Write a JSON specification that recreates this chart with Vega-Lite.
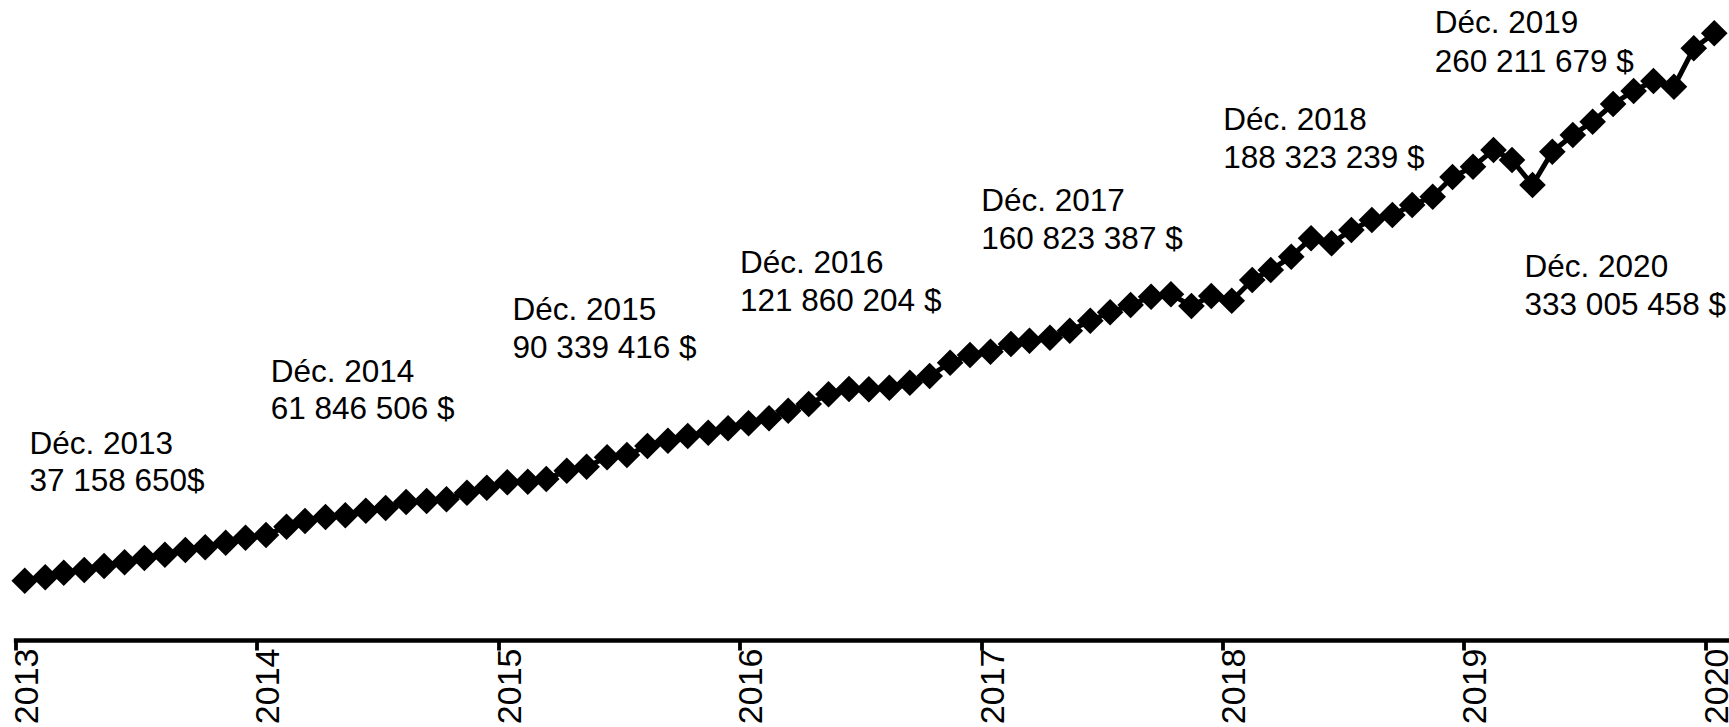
{
  "$schema": "https://vega.github.io/schema/vega-lite/v6.json",
  "width": 1711,
  "height": 640,
  "autosize": {"type": "none"},
  "padding": {"left": 15.5, "top": 0, "right": 2.5, "bottom": 87},
  "background": "white",
  "config": {"view": {"stroke": null}, "font": "Liberation Sans"},
  "datasets": {
    "serie": [
      {"mois": "2013-01-15", "valeur": 29.65},
      {"mois": "2013-02-15", "valeur": 31.35},
      {"mois": "2013-03-15", "valeur": 33.65},
      {"mois": "2013-04-15", "valeur": 35},
      {"mois": "2013-05-15", "valeur": 37},
      {"mois": "2013-06-15", "valeur": 38.85},
      {"mois": "2013-07-15", "valeur": 41},
      {"mois": "2013-08-15", "valeur": 42.65},
      {"mois": "2013-09-15", "valeur": 45},
      {"mois": "2013-10-15", "valeur": 46.35},
      {"mois": "2013-11-15", "valeur": 48.65},
      {"mois": "2013-12-15", "valeur": 51.15},
      {"mois": "2014-01-15", "valeur": 52.5},
      {"mois": "2014-02-15", "valeur": 56.65},
      {"mois": "2014-03-15", "valeur": 59.5},
      {"mois": "2014-04-15", "valeur": 61.5},
      {"mois": "2014-05-15", "valeur": 62.35},
      {"mois": "2014-06-15", "valeur": 64.65},
      {"mois": "2014-07-15", "valeur": 66},
      {"mois": "2014-08-15", "valeur": 69},
      {"mois": "2014-09-15", "valeur": 69.5},
      {"mois": "2014-10-15", "valeur": 70.35},
      {"mois": "2014-11-15", "valeur": 73.65},
      {"mois": "2014-12-15", "valeur": 76.15},
      {"mois": "2015-01-15", "valeur": 78.85},
      {"mois": "2015-02-15", "valeur": 79.15},
      {"mois": "2015-03-15", "valeur": 80.5},
      {"mois": "2015-04-15", "valeur": 84.65},
      {"mois": "2015-05-15", "valeur": 86.65},
      {"mois": "2015-06-15", "valeur": 91.35},
      {"mois": "2015-07-15", "valeur": 92.5},
      {"mois": "2015-08-15", "valeur": 97},
      {"mois": "2015-09-15", "valeur": 99.65},
      {"mois": "2015-10-15", "valeur": 102},
      {"mois": "2015-11-15", "valeur": 103.65},
      {"mois": "2015-12-15", "valeur": 105.85},
      {"mois": "2016-01-15", "valeur": 108.35},
      {"mois": "2016-02-15", "valeur": 110.85},
      {"mois": "2016-03-15", "valeur": 114.65},
      {"mois": "2016-04-15", "valeur": 118},
      {"mois": "2016-05-15", "valeur": 122.85},
      {"mois": "2016-06-15", "valeur": 125.5},
      {"mois": "2016-07-15", "valeur": 125.35},
      {"mois": "2016-08-15", "valeur": 126.15},
      {"mois": "2016-09-15", "valeur": 128.65},
      {"mois": "2016-10-15", "valeur": 132},
      {"mois": "2016-11-15", "valeur": 138.65},
      {"mois": "2016-12-15", "valeur": 142.5},
      {"mois": "2017-01-15", "valeur": 144.15},
      {"mois": "2017-02-15", "valeur": 148},
      {"mois": "2017-03-15", "valeur": 149.65},
      {"mois": "2017-04-15", "valeur": 151.15},
      {"mois": "2017-05-15", "valeur": 154.65},
      {"mois": "2017-06-15", "valeur": 159.65},
      {"mois": "2017-07-15", "valeur": 163.85},
      {"mois": "2017-08-15", "valeur": 167.5},
      {"mois": "2017-09-15", "valeur": 171.65},
      {"mois": "2017-10-15", "valeur": 172.85},
      {"mois": "2017-11-15", "valeur": 167},
      {"mois": "2017-12-15", "valeur": 172},
      {"mois": "2018-01-15", "valeur": 169.65},
      {"mois": "2018-02-15", "valeur": 180},
      {"mois": "2018-03-15", "valeur": 185},
      {"mois": "2018-04-15", "valeur": 191.65},
      {"mois": "2018-05-15", "valeur": 200.85},
      {"mois": "2018-06-15", "valeur": 198.35},
      {"mois": "2018-07-15", "valeur": 205},
      {"mois": "2018-08-15", "valeur": 210},
      {"mois": "2018-09-15", "valeur": 212.5},
      {"mois": "2018-10-15", "valeur": 217.5},
      {"mois": "2018-11-15", "valeur": 221.65},
      {"mois": "2018-12-15", "valeur": 231.5},
      {"mois": "2019-01-15", "valeur": 236.65},
      {"mois": "2019-02-15", "valeur": 245},
      {"mois": "2019-03-15", "valeur": 240},
      {"mois": "2019-04-15", "valeur": 227.5},
      {"mois": "2019-05-15", "valeur": 244.15},
      {"mois": "2019-06-15", "valeur": 252.5},
      {"mois": "2019-07-15", "valeur": 259.15},
      {"mois": "2019-08-15", "valeur": 268},
      {"mois": "2019-09-15", "valeur": 274.5},
      {"mois": "2019-10-15", "valeur": 279.5},
      {"mois": "2019-11-15", "valeur": 276.65},
      {"mois": "2019-12-15", "valeur": 295.85},
      {"mois": "2020-01-15", "valeur": 303.35}
    ],
    "notes": [
      {"mois": "2013-01-22", "valeur": 93, "texte": "Déc. 2013"},
      {"mois": "2013-01-22", "valeur": 74.5, "texte": "37 158 650$"},
      {"mois": "2014-01-22", "valeur": 129.15, "texte": "Déc. 2014"},
      {"mois": "2014-01-22", "valeur": 110.35, "texte": "61 846 506 $"},
      {"mois": "2015-01-23", "valeur": 160, "texte": "Déc. 2015"},
      {"mois": "2015-01-23", "valeur": 141.15, "texte": "90 339 416 $"},
      {"mois": "2016-01-02", "valeur": 183.5, "texte": "Déc. 2016"},
      {"mois": "2016-01-02", "valeur": 164.5, "texte": "121 860 204 $"},
      {"mois": "2017-01-01", "valeur": 214.5, "texte": "Déc. 2017"},
      {"mois": "2017-01-01", "valeur": 195.5, "texte": "160 823 387 $"},
      {"mois": "2018-01-02", "valeur": 255, "texte": "Déc. 2018"},
      {"mois": "2018-01-02", "valeur": 236, "texte": "188 323 239 $"},
      {"mois": "2018-11-18", "valeur": 303.35, "texte": "Déc. 2019"},
      {"mois": "2018-11-18", "valeur": 284.15, "texte": "260 211 679 $"},
      {"mois": "2019-04-03", "valeur": 181.35, "texte": "Déc. 2020"},
      {"mois": "2019-04-03", "valeur": 162.5, "texte": "333 005 458 $"}
    ]
  },
  "encoding": {
    "x": {
      "field": "mois",
      "type": "temporal",
      "scale": {
        "type": "utc",
        "domain": [
          {"year": 2013, "month": 1, "date": 1, "utc": true},
          {"year": 2020, "month": 2, "date": 2, "hours": 12, "utc": true}
        ],
        "nice": false
      },
      "axis": {
        "title": null,
        "format": "%Y",
        "formatType": "utc",
        "tickCount": {"interval": "year", "step": 1},
        "labelAngle": -90,
        "labelAlign": "right",
        "labelBaseline": "middle",
        "labelOffset": 12,
        "labelFontSize": 34,
        "labelFont": "Liberation Sans",
        "labelColor": "black",
        "labelPadding": -2,
        "labelFlush": false,
        "labelOverlap": false,
        "labelBound": false,
        "domainColor": "black",
        "domainWidth": 4.3,
        "domainCap": "square",
        "tickColor": "black",
        "tickWidth": 3.8,
        "tickSize": 10,
        "grid": false
      }
    },
    "y": {
      "field": "valeur",
      "type": "quantitative",
      "scale": {"domain": [0, 320], "nice": false, "zero": false},
      "axis": null
    }
  },
  "layer": [
    {
      "data": {"name": "serie"},
      "mark": {"type": "line", "color": "black", "strokeWidth": 5}
    },
    {
      "data": {"name": "serie"},
      "mark": {"type": "point", "shape": "diamond", "filled": true, "size": 710, "color": "black", "opacity": 1}
    },
    {
      "data": {"name": "notes"},
      "mark": {"type": "text", "align": "left", "baseline": "alphabetic", "fontSize": 31.5, "font": "Liberation Sans", "color": "black"},
      "encoding": {"text": {"field": "texte"}}
    }
  ]
}
